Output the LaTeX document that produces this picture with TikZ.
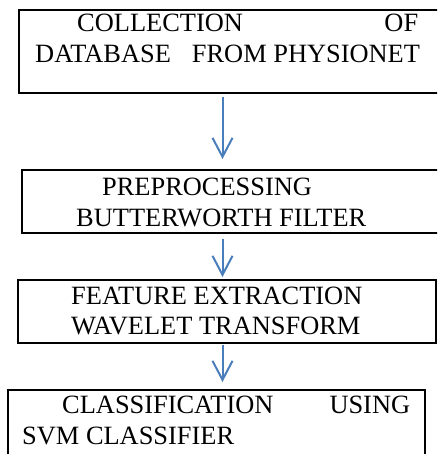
\documentclass[tikz,border=0pt]{standalone}
\usepackage{fontspec}
\setmainfont{Liberation Serif}
\usetikzlibrary{arrows.meta}
\definecolor{arrblue}{HTML}{4A7EBB}
\tikzset{
  box/.style={draw=black, line width=2pt, inner sep=0pt, anchor=north west},
  txt/.style={anchor=base west, inner sep=0pt, font=\fontsize{26.4}{30}\selectfont},
  arr/.style={draw=arrblue, line width=2pt, -{Straight Barb[length=19pt,width=20pt,line width=2pt]}}
}
\begin{document}
\begin{tikzpicture}[x=1pt,y=-1pt]
\useasboundingbox (0,0) rectangle (437,454);
\clip (0,0) rectangle (437,454);
% boxes
\node[box, minimum width=432pt, minimum height=83pt] (b1) at (18,9) {};
\node[box, minimum width=429pt, minimum height=63pt] (b2) at (21,169) {};
\node[box, minimum width=418pt, minimum height=63pt] (b3) at (17,279) {};
\node[box, minimum width=417pt, minimum height=80pt] (b4) at (7,389) {};
% texts
\node[txt] (t1) at (77,32) {\makebox[341pt][s]{COLLECTION\hfill OF}};
\node[txt] (t2) at (35,63) {DATABASE\hspace{21pt}FROM PHYSIONET};
\node[txt] (t3) at (102,195) {PREPROCESSING};
\node[txt] (t4) at (76,226) {BUTTERWORTH FILTER};
\node[txt] (t5) at (71,304) {FEATURE EXTRACTION};
\node[txt] (t6) at (71,334) {WAVELET TRANSFORM};
\node[txt] (t7) at (62,413) {\makebox[348pt][s]{CLASSIFICATION\hfill USING}};
\node[txt] (t8) at (22,444) {SVM CLASSIFIER};
% arrows
\coordinate (ax) at (222.5,0);
\draw[arr, shorten <=3pt, shorten >=10pt] (b1.south -| ax) -- (b2.north -| ax);
\draw[arr, shorten <=5pt, shorten >=2pt] (b2.south -| ax) -- (b3.north -| ax);
\draw[arr, shorten <=1pt, shorten >=7pt] (b3.south -| ax) -- (b4.north -| ax);
\end{tikzpicture}
\end{document}
